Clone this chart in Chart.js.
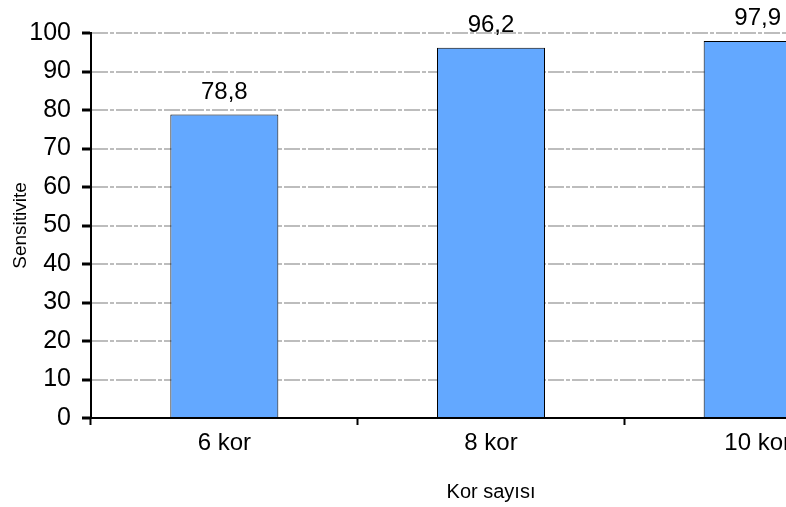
<!DOCTYPE html>
<html>
<head>
<meta charset="utf-8">
<script src="https://cdn.jsdelivr.net/npm/chart.js@4/dist/chart.umd.min.js"></script>
<style>
html,body{margin:0;padding:0;background:#fff;overflow:hidden;}
#wrap{width:786px;height:507px;overflow:hidden;position:relative;}
#box{width:900px;height:507px;}
</style>
</head>
<body>
<div id="wrap"><div id="box"><canvas id="korChart"></canvas></div></div>
<script>

const categories = ["6 kor", "8 kor", "10 kor"];
const sensitivite = [78.8, 96.2, 97.9];
const yTicks = [0, 10, 20, 30, 40, 50, 60, 70, 80, 90, 100];

const fontName = "'Liberation Sans', Arial, sans-serif";

// value labels over the bars, with comma decimals
const barLabels = {
  id: 'barLabels',
  afterDatasetsDraw(chart){
    const ctx = chart.ctx;
    const meta = chart.getDatasetMeta(0);
    ctx.save();
    ctx.font = "24px " + fontName;
    ctx.fillStyle = "#000";
    ctx.textAlign = "center";
    ctx.textBaseline = "alphabetic";
    meta.data.forEach(function(bar, i){
      let txt = sensitivite[i].toFixed(1).replace(".", ",");
      ctx.fillText(txt, bar.x, bar.y - 16);
    });
    ctx.restore();
  }
};

const kor = document.getElementById('korChart');

new Chart(kor, {
  type: 'bar',
  data: {
    labels: categories,
    datasets: [{
      data: sensitivite,
      backgroundColor: "#63a8ff",
      borderColor: "#000",
      borderWidth: 1,
      barPercentage: 0.405,
      categoryPercentage: 1
    }]
  },
  options: {
    responsive: true,
    maintainAspectRatio: false,
    animation: false,
    devicePixelRatio: 1,
    layout: { padding: { top: 33, right: 9, left: 0, bottom: 0 } },
    plugins: {
      legend: { display: false },
      tooltip: { enabled: false }
    },
    scales: {
      x: {
        offset: true,
        grid: {
          offset: true,
          drawOnChartArea: false,
          tickLength: 7,
          tickColor: "#000",
          tickWidth: 2
        },
        border: { color: "#000", width: 2 },
        ticks: {
          color: "#000",
          padding: 4,
          font: { family: fontName, size: 24 }
        },
        title: {
          display: true,
          text: "Kor sayısı",
          color: "#000",
          font: { family: fontName, size: 20 },
          padding: { top: 0, bottom: 3 }
        },
        afterFit: function(s){ s.height = 89; }
      },
      y: {
        min: 0,
        max: 100,
        afterBuildTicks: function(s){ s.ticks = yTicks.map(v => ({ value: v })); },
        grid: {
          color: "#bdbdbd",
          lineWidth: 2,
          tickLength: 9,
          tickColor: "#000",
          tickWidth: 3
        },
        border: { color: "#000", width: 2, dash: [16, 2, 4, 2] },
        ticks: {
          color: "#000",
          padding: 11,
          font: { family: fontName, size: 25 }
        },
        title: {
          display: true,
          text: "Sensitivite",
          color: "#000",
          font: { family: fontName, size: 19 },
          padding: { top: 9, bottom: 0 }
        },
        afterFit: function(s){ s.width = 91; }
      }
    }
  },
  plugins: [barLabels]
});

</script>
</body>
</html>
